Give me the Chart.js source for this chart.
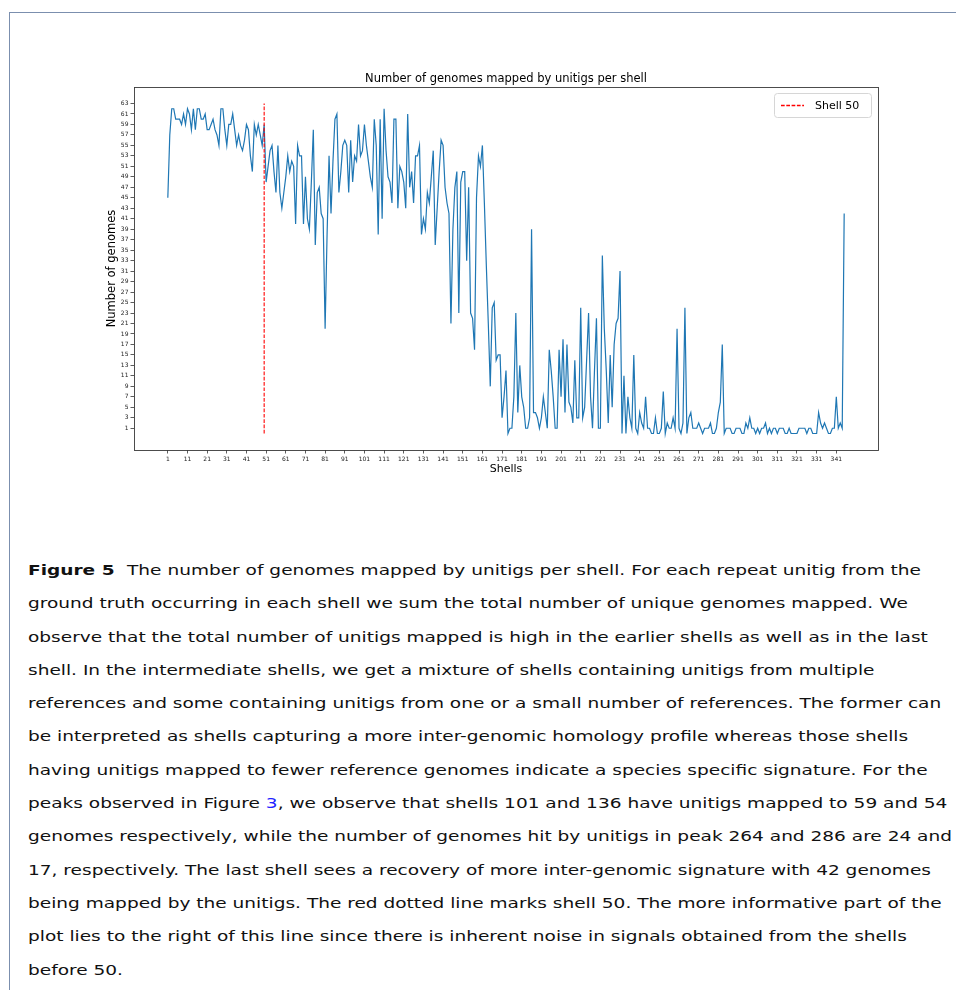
<!DOCTYPE html>
<html>
<head>
<meta charset="utf-8">
<script src="https://cdn.jsdelivr.net/npm/chart.js@4/dist/chart.umd.min.js"></script>
<style>
  html, body { margin:0; padding:0; background:#fff; }
  body { width:956px; height:990px; position:relative; overflow:hidden; }
  #frame { position:absolute; left:9px; top:12px; width:960px; height:990px;
           border-top:1.5px solid #7b8fae; border-left:1.5px solid #7b8fae; }
  #chart { position:absolute; left:0; top:0; }
  #caption { position:absolute; left:28px; top:554px; font-family:"DejaVu Sans", sans-serif;
             font-size:14px; color:#111; }
  #caption .ln { height:33.3px; line-height:33.3px; white-space:nowrap; }
  #caption .ln span { display:inline-block; transform-origin:0 50%; }
  #caption b { font-weight:bold; margin-right:5px; }
  #caption a { color:#2323ff; text-decoration:none; }
</style>
</head>
<body>
<div id="frame"></div>
<canvas id="chart" width="956" height="500"></canvas>
<div id="caption">
  <div class="ln"><span><b>Figure 5</b> The number of genomes mapped by unitigs per shell. For each repeat unitig from the</span></div>
  <div class="ln"><span>ground truth occurring in each shell we sum the total number of unique genomes mapped. We</span></div>
  <div class="ln"><span>observe that the total number of unitigs mapped is high in the earlier shells as well as in the last</span></div>
  <div class="ln"><span>shell. In the intermediate shells, we get a mixture of shells containing unitigs from multiple</span></div>
  <div class="ln"><span>references and some containing unitigs from one or a small number of references. The former can</span></div>
  <div class="ln"><span>be interpreted as shells capturing a more inter-genomic homology profile whereas those shells</span></div>
  <div class="ln"><span>having unitigs mapped to fewer reference genomes indicate a species specific signature. For the</span></div>
  <div class="ln"><span>peaks observed in Figure <a>3</a>, we observe that shells 101 and 136 have unitigs mapped to 59 and 54</span></div>
  <div class="ln"><span>genomes respectively, while the number of genomes hit by unitigs in peak 264 and 286 are 24 and</span></div>
  <div class="ln"><span>17, respectively. The last shell sees a recovery of more inter-genomic signature with 42 genomes</span></div>
  <div class="ln"><span>being mapped by the unitigs. The red dotted line marks shell 50. The more informative part of the</span></div>
  <div class="ln"><span>plot lies to the right of this line since there is inherent noise in signals obtained from the shells</span></div>
  <div class="ln"><span>before 50.</span></div>
</div>
<script>
// ---- data ----
const chartTitle = "Number of genomes mapped by unitigs per shell";
const xAxisLabel = "Shells";
const yAxisLabel = "Number of genomes";
const legendLabel = "Shell 50";
const firstShell = 1;
const genomes = [
  45,57,62,62,60,60,60,59,61,59,
  62,61,58,62,58,62,62,60,60,61,
  58,58,59,60,58,57,55,62,62,58,
  55,59,59,61,58,55,57,55,54,56,
  59,58,53,50,59,57,59,57,55,59,
  48,51,54,55,50,46,55,46,43,46,
  49,53,50,52,51,40,55,53,53,40,
  49,41,39,48,58,36,46,47,42,41,
  20,38,53,42,52,60,61,46,50,55,
  56,55,46,56,48,53,52,59,53,54,
  59,55,52,49,47,60,55,38,60,41,
  62,54,49,48,44,60,60,43,51,50,
  48,43,61,47,50,44,53,53,55,38,
  41,39,46,44,49,54,36,43,50,56,
  55,47,44,42,21,39,47,50,23,48,
  50,50,33,47,23,22,16,45,53,51,
  55,44,32,21,9,24,25,14,15,15,
  3,7,12,0,1,1,7,23,4,13,
  7,5,1,1,3,39,4,4,3,1,
  3,7,4,1,16,12,7,1,1,16,
  7,18,4,17,6,5,2,14,3,3,
  24,3,5,14,23,7,1,12,22,1,
  1,34,20,12,2,15,5,17,21,22,
  31,0,11,0,7,3,1,15,1,0,
  4,2,1,7,1,1,0,0,3,0,
  0,1,8,0,2,1,1,3,1,20,
  1,0,2,24,0,3,4,1,1,1,
  2,1,0,1,1,1,2,0,0,1,
  4,6,17,0,1,1,1,0,0,1,
  1,1,0,0,2,1,3,1,1,0,
  1,0,1,1,2,0,1,0,1,1,
  0,1,1,1,0,0,1,0,0,0,
  0,1,1,1,1,0,1,1,0,0,
  0,4,2,1,2,1,0,0,1,1,
  7,1,2,1,42
];
const markerShell = 50;
const markerRange = [0, 63];
const xTicks = [1,11,21,31,41,51,61,71,81,91,101,111,121,131,141,151,161,171,181,191,201,211,221,231,241,251,261,271,281,291,301,311,321,331,341];
const yTicks = [1,3,5,7,9,11,13,15,17,19,21,23,25,27,29,31,33,35,37,39,41,43,45,47,49,51,53,55,57,59,61,63];

// ---- build ----
const linePoints = genomes.map((v, i) => ({ x: firstShell + i, y: v }));
const markerPoints = markerRange.map(v => ({ x: markerShell, y: v }));

const xMin = firstShell - 0.05 * (genomes.length - 1);
const xMax = firstShell + (genomes.length - 1) * 1.05;
const yLo = Math.min(...genomes, markerRange[0]);
const yHi = Math.max(...genomes, markerRange[1]);
const yMin = yLo - 0.05 * (yHi - yLo);
const yMax = yHi + 0.05 * (yHi - yLo);

const FONT = '"DejaVu Sans", sans-serif';

const deco = {
  id: 'deco',
  afterDraw(chart) {
    const { ctx, chartArea: a } = chart;
    ctx.save();
    // axes frame
    ctx.strokeStyle = '#3a3a3a';
    ctx.lineWidth = 0.9;
    ctx.strokeRect(Math.round(a.left) + 0.5, Math.round(a.top) + 0.5,
                   Math.round(a.right - a.left), Math.round(a.bottom - a.top));
    // title
    ctx.fillStyle = '#000';
    ctx.font = '11.5px ' + FONT;
    ctx.textAlign = 'center';
    ctx.textBaseline = 'alphabetic';
    ctx.fillText(chartTitle, (a.left + a.right) / 2, a.top - 5);
    // x label
    ctx.font = '11px ' + FONT;
    ctx.textBaseline = 'middle';
    ctx.fillText(xAxisLabel, (a.left + a.right) / 2, a.bottom + 19);
    // y label
    ctx.save();
    ctx.translate(a.left - 22, (a.top + a.bottom) / 2);
    ctx.rotate(-Math.PI / 2);
    ctx.font = '11.5px ' + FONT;
    ctx.fillText(yAxisLabel, 0, 0);
    ctx.restore();
    // legend
    const bw = 97, bh = 24;
    const bx = a.right - 7 - bw, by = a.top + 6;
    ctx.beginPath();
    ctx.roundRect(bx + 0.5, by + 0.5, bw, bh, 3);
    ctx.fillStyle = 'rgba(255,255,255,0.85)';
    ctx.fill();
    ctx.strokeStyle = '#d6d6d6';
    ctx.lineWidth = 1;
    ctx.stroke();
    ctx.beginPath();
    ctx.setLineDash([3.7, 1.6]);
    ctx.strokeStyle = '#ff0000';
    ctx.lineWidth = 1.4;
    ctx.moveTo(bx + 7, by + bh / 2 + 0.5);
    ctx.lineTo(bx + 30, by + bh / 2 + 0.5);
    ctx.stroke();
    ctx.setLineDash([]);
    ctx.fillStyle = '#000';
    ctx.font = '11px ' + FONT;
    ctx.textAlign = 'left';
    ctx.textBaseline = 'middle';
    ctx.fillText(legendLabel, bx + 41, by + bh / 2 + 1);
    ctx.restore();
  }
};

new Chart(document.getElementById('chart'), {
  type: 'line',
  data: {
    datasets: [
      { label: legendLabel, data: markerPoints, borderColor: 'red', borderWidth: 1.1,
        borderDash: [3.7, 1.6], pointRadius: 0, fill: false },
      { label: 'genomes', data: linePoints, borderColor: '#1f77b4', borderWidth: 1.2,
        pointRadius: 0, fill: false, tension: 0 }
    ]
  },
  options: {
    responsive: false,
    animation: false,
    devicePixelRatio: 1,
    layout: { padding: { top: 87, right: 78, left: 0, bottom: 0 } },
    plugins: { legend: { display: false }, tooltip: { enabled: false }, title: { display: false } },
    scales: {
      x: {
        type: 'linear', min: xMin, max: xMax,
        afterBuildTicks: s => { s.ticks = xTicks.map(v => ({ value: v })); },
        afterFit: s => { s.height = 50; },
        ticks: { autoSkip: false, maxRotation: 0, minRotation: 0, padding: 2,
                 color: '#222', font: { family: FONT, size: 6 } },
        grid: { drawOnChartArea: false, drawTicks: true, tickLength: 3.5, color: '#333', lineWidth: 0.8 },
        border: { display: false }
      },
      y: {
        type: 'linear', min: yMin, max: yMax,
        afterBuildTicks: s => { s.ticks = yTicks.map(v => ({ value: v })); },
        afterFit: s => { s.width = 134; },
        ticks: { autoSkip: false, padding: 2, color: '#222', font: { family: FONT, size: 6 } },
        grid: { drawOnChartArea: false, drawTicks: true, tickLength: 3.5, color: '#333', lineWidth: 0.8 },
        border: { display: false }
      }
    }
  },
  plugins: [deco]
});

// fit caption lines to the reference width
(function () {
  const spans = document.querySelectorAll('#caption .ln span');
  const k = 893 / spans[0].getBoundingClientRect().width;
  spans.forEach(s => { s.style.transform = 'scaleX(' + k + ')'; });
})();
</script>
</body>
</html>
